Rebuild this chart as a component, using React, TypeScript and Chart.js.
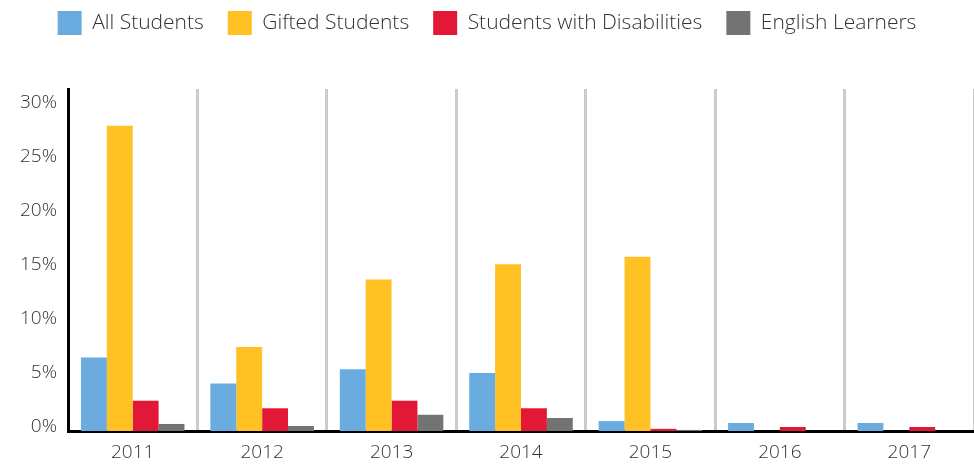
import React, { useEffect, useRef } from 'react';
import { Chart, registerables } from 'chart.js';

Chart.register(...registerables);

const categories = ['2011', '2012', '2013', '2014', '2015', '2016', '2017'];
const allStudents = [6.8, 4.4, 5.7, 5.35, 0.92, 0.74, 0.74];
const giftedStudents = [28.2, 7.75, 14.0, 15.4, 16.1, 0, 0];
const disabilities = [2.8, 2.1, 2.8, 2.1, 0.2, 0.37, 0.37];
const englishLearners = [0.65, 0.46, 1.5, 1.2, 0.1, 0, 0];
const yTicks = [0, 5, 10, 15, 20, 25, 30];

const FONT = "'Open Sans', 'Noto Sans', sans-serif";

const legendSpacer = {
  id: 'legendSpacer',
  beforeInit(chart: any) {
    const legend = chart.legend;
    if (!legend) return;
    const orig = legend.fit;
    legend.fit = function () {
      orig.call(this);
      this.height += 44;
    };
  },
};

export default function App() {
  const ref = useRef<HTMLCanvasElement>(null);

  useEffect(() => {
    if (!ref.current) return;
    const chart = new Chart(ref.current, {
      type: 'bar',
      data: {
        labels: categories,
        datasets: [
          { label: 'All Students', data: allStudents, backgroundColor: '#6aacdf' },
          { label: 'Gifted Students', data: giftedStudents, backgroundColor: '#ffc124' },
          { label: 'Students with Disabilities', data: disabilities, backgroundColor: '#e31837' },
          { label: 'English Learners', data: englishLearners, backgroundColor: '#737373' },
        ].map((d) => ({ ...d, borderWidth: 0, categoryPercentage: 0.8, barPercentage: 1 })),
      },
      options: {
        responsive: false,
        animation: false,
        layout: { padding: { top: -13, left: 0, right: 0, bottom: 0 } },
        plugins: {
          legend: {
            position: 'top',
            labels: {
              boxWidth: 24,
              boxHeight: 24,
              padding: 24,
              color: '#333333',
              font: { family: FONT, size: 21, weight: 300 as any },
            },
          },
          tooltip: { enabled: false },
        },
        scales: {
          x: {
            grid: {
              display: true,
              offset: true,
              drawTicks: false,
              lineWidth: 3,
              color: (ctx: any) =>
                ctx.index === 0 || ctx.index === categories.length ? 'rgba(0,0,0,0)' : '#cbcbcb',
            },
            border: { display: true, color: '#000000', width: 3 },
            afterFit: (scale: any) => {
              scale.height = 33;
            },
            ticks: {
              color: '#333333',
              padding: 10,
              font: { family: FONT, size: 19, weight: 300 as any },
            },
          },
          y: {
            min: 0,
            max: 31.6,
            grid: { display: false, drawTicks: false },
            border: { display: true, color: '#000000', width: 3 },
            afterFit: (scale: any) => {
              scale.width = 68;
            },
            afterBuildTicks: (scale: any) => {
              scale.ticks = yTicks.map((v) => ({ value: v }));
            },
            ticks: {
              stepSize: 5,
              includeBounds: false,
              padding: 11,
              labelOffset: -4,
              color: '#333333',
              font: { family: FONT, size: 19, weight: 300 as any },
              callback: (v: any) => v + '%',
            },
          },
        },
      },
      plugins: [legendSpacer],
    });
    return () => chart.destroy();
  }, []);

  return (
    <div style={{ position: 'absolute', left: 0, top: 0, width: 974, height: 464, background: '#ffffff', overflow: 'hidden' }}>
      <canvas ref={ref} width={974} height={464} style={{ display: 'block', width: 974, height: 464 }} />
    </div>
  );
}
